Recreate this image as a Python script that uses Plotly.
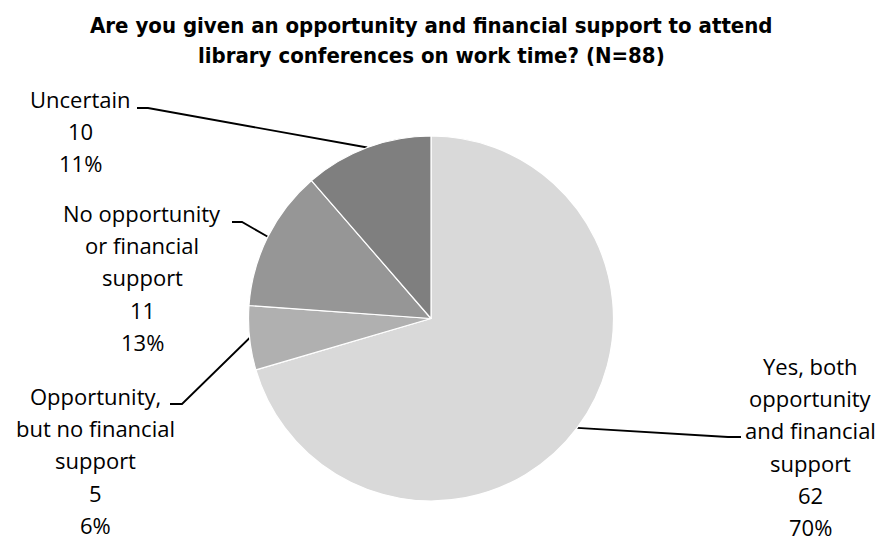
import math
import plotly.graph_objects as go

# Survey responses (N=88)
categories = [
    "Yes, both opportunity and financial support",
    "Opportunity, but no financial support",
    "No opportunity or financial support",
    "Uncertain",
]
counts = [62, 5, 11, 10]
label_lines = [
    ["Yes, both", "opportunity", "and financial", "support"],
    ["Opportunity,", "but no financial", "support"],
    ["No opportunity", "or financial", "support"],
    ["Uncertain"],
]
slice_colors = ["#d9d9d9", "#b0b0b0", "#969696", "#7f7f7f"]
title_lines = [
    "Are you given an opportunity and financial support to attend",
    "library conferences on work time? (N=88)",
]

W, H = 882, 537
CX, CY, R = 431.0, 318.5, 182.5          # pie centre / radius in pixels
LINE_STEP = 32.2                          # label line spacing
LABEL_FONT = "Open Sans, Carlito, Calibri, sans-serif"
TITLE_FONT = "Liberation Sans Narrow, Arial Narrow, DejaVu Sans Condensed, Liberation Sans, sans-serif"

# label block placement: centre x, baseline of first line, leader elbow and end
label_cx = [810, 95, 142, 80]
label_base = [375, 405, 222, 108]
leader_elbow = [(728, 437), (182, 404), (242, 222), (148, 108)]
leader_end = [(741, 437), (170, 404), (232, 222), (137, 108)]

total = sum(counts)

fig = go.Figure()

fig.add_trace(go.Pie(
    labels=categories,
    values=counts,
    sort=False,
    direction="clockwise",
    rotation=0,
    textinfo="none",
    hoverinfo="label+value+percent",
    marker=dict(colors=slice_colors, line=dict(color="#ffffff", width=1.2)),
    showlegend=False,
    domain=dict(
        x=[(CX - R) / W, (CX + R) / W],
        y=[(H - CY - R) / H, (H - CY + R) / H],
    ),
))

# leader lines from the middle of each slice's arc to its label
lx, ly = [], []
cum = 0
for v, elbow, end in zip(counts, leader_elbow, leader_end):
    theta = math.radians((cum + v / 2) / total * 360)
    cum += v
    sx = CX + R * math.sin(theta)
    sy = CY - R * math.cos(theta)
    lx += [sx, elbow[0], end[0], None]
    ly += [sy, elbow[1], end[1], None]

fig.add_trace(go.Scatter(
    x=lx, y=ly, mode="lines",
    line=dict(color="#000000", width=1.8),
    hoverinfo="skip", showlegend=False,
))

annotations = []
for lines, v, cx, base in zip(label_lines, counts, label_cx, label_base):
    pct = int(v / total * 100 + 0.5)
    full = lines + [str(v), f"{pct}%"]
    for i, txt in enumerate(full):
        annotations.append(dict(
            x=cx, y=base + i * LINE_STEP - 9, xref="x", yref="y",
            text=txt, showarrow=False, xanchor="center", yanchor="middle",
            font=dict(family=LABEL_FONT, size=22, color="#000000"),
        ))

for i, txt in enumerate(title_lines):
    annotations.append(dict(
        x=431, y=33 + i * 30 - 8, xref="x", yref="y",
        text=f"<b>{txt}</b>", showarrow=False, xanchor="center", yanchor="middle",
        font=dict(family=TITLE_FONT, size=22, color="#000000"),
    ))

fig.update_layout(
    width=W, height=H,
    margin=dict(l=0, r=0, t=0, b=0),
    paper_bgcolor="#ffffff", plot_bgcolor="rgba(0,0,0,0)",
    xaxis=dict(range=[0, W], visible=False, fixedrange=True),
    yaxis=dict(range=[H, 0], visible=False, fixedrange=True),
    annotations=annotations,
)

fig.write_html("out.html")
